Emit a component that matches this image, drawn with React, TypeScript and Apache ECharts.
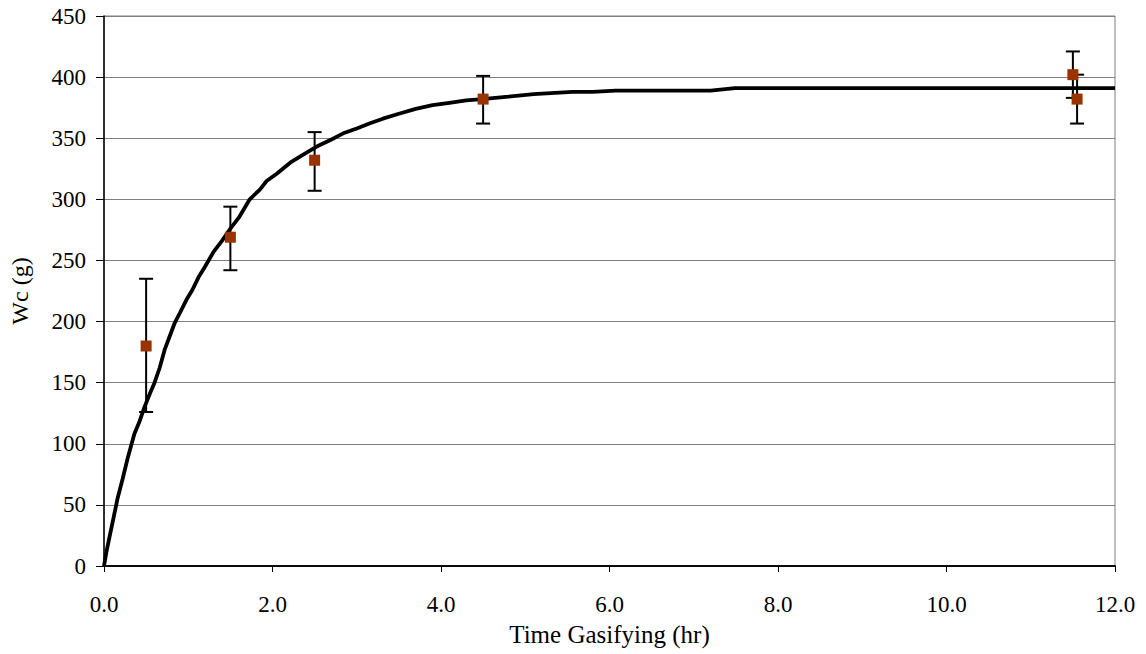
import React, { useEffect, useRef } from "react";
import * as echarts from "echarts";

const curveX = [0, 0.03, 0.06, 0.1, 0.16, 0.22, 0.28, 0.36, 0.42, 0.48, 0.55, 0.6, 0.66, 0.72, 0.78, 0.84, 0.9, 0.98, 1.05, 1.12, 1.2, 1.3, 1.4, 1.5, 1.6, 1.73, 1.85, 1.93, 2.05, 2.21, 2.35, 2.52, 2.7, 2.84, 3.0, 3.15, 3.31, 3.5, 3.7, 3.9, 4.1, 4.3, 4.49, 4.8, 5.1, 5.56, 5.8, 6.07, 6.5, 7.2, 7.49, 8, 9, 10, 11, 12];
const curveY = [0, 12, 22, 35, 55, 71, 88, 108, 118, 130, 142, 150, 162, 177, 188, 199, 207, 218, 226, 236, 245, 257, 266, 276, 285, 300, 308, 315, 321, 330, 336, 343, 349, 354, 358, 362, 366, 370, 374, 377, 379, 381, 382, 384, 386, 388, 388, 389, 389, 389, 391, 391, 391, 391, 391, 391];

const measX = [0.5, 1.5, 2.5, 4.5, 11.5, 11.55];
const measY = [180, 269, 332, 382, 402, 382];
const errLow = [126, 242, 307, 362, 383, 362];
const errHigh = [235, 294, 355, 401, 421, 402];

const xTicks = ["0.0", "2.0", "4.0", "6.0", "8.0", "10.0", "12.0"];

const FONT = "Liberation Serif";

export default function App() {
  const ref = useRef<HTMLDivElement>(null);
  useEffect(() => {
    if (!ref.current) return;
    const chart = echarts.init(ref.current, undefined, { renderer: "svg" });
    const lineData = curveX.map((x, i) => [x, curveY[i]]);
    const scatterData = measX.map((x, i) => [x, measY[i]]);
    const errData = measX.map((x, i) => [x, errLow[i], errHigh[i]]);
    chart.setOption({
      animation: false,
      backgroundColor: "#ffffff",
      textStyle: { fontFamily: FONT },
      grid: {
        left: 100,
        top: 16,
        right: 31,
        bottom: 88,
        show: true,
        borderColor: "#808080",
        borderWidth: 1,
      },
      xAxis: [
        {
          type: "value",
          min: 0,
          max: 12,
          interval: 2,
          name: "Time Gasifying (hr)",
          nameLocation: "middle",
          nameGap: 56,
          nameTextStyle: { fontFamily: FONT, fontSize: 25, color: "#000" },
          axisLine: { show: true, onZero: false, lineStyle: { color: "#000", width: 1.5 } },
          axisTick: { show: true, inside: false, length: 6, lineStyle: { color: "#000" } },
          axisLabel: {
            fontFamily: FONT,
            fontSize: 23,
            color: "#000",
            margin: 27,
            formatter: (v: number) => xTicks[Math.round(v / 2)] ?? "",
          },
          splitLine: { show: false },
        },
        {
          type: "value",
          position: "top",
          min: 0,
          max: 12,
          interval: 2,
          axisLine: { show: true, lineStyle: { color: "#000", width: 1.5 } },
          axisTick: { show: false },
          axisLabel: { show: false },
          splitLine: { show: false },
        },
      ],
      yAxis: {
        type: "value",
        min: 0,
        max: 450,
        interval: 50,
        name: "Wc (g)",
        nameLocation: "middle",
        nameGap: 72,
        nameTextStyle: { fontFamily: FONT, fontSize: 24, color: "#000" },
        axisLine: { show: true, lineStyle: { color: "#000", width: 1.5 } },
        axisTick: { show: true, inside: false, length: 8, lineStyle: { color: "#000" } },
        axisLabel: { fontFamily: FONT, fontSize: 23, color: "#000", margin: 18 },
        splitLine: { show: true, lineStyle: { color: "#808080", width: 1.2 } },
      },
      series: [
        {
          type: "line",
          data: lineData,
          showSymbol: false,
          symbol: "none",
          lineStyle: { color: "#000", width: 3.8 },
          z: 2,
        },
        {
          type: "custom",
          data: errData,
          z: 3,
          renderItem: (params: any, api: any) => {
            const x = api.value(0);
            const lo = api.coord([x, api.value(1)]);
            const hi = api.coord([x, api.value(2)]);
            const hw = 7;
            const style = { stroke: "#000", lineWidth: 2 };
            return {
              type: "group",
              children: [
                { type: "line", shape: { x1: lo[0], y1: lo[1], x2: hi[0], y2: hi[1] }, style },
                { type: "line", shape: { x1: lo[0] - hw, y1: lo[1], x2: lo[0] + hw, y2: lo[1] }, style },
                { type: "line", shape: { x1: hi[0] - hw, y1: hi[1], x2: hi[0] + hw, y2: hi[1] }, style },
              ],
            };
          },
        },
        {
          type: "scatter",
          data: scatterData,
          symbol: "rect",
          symbolSize: 11,
          itemStyle: { color: "#993300", opacity: 1 },
          z: 4,
        },
      ],
    });
    return () => chart.dispose();
  }, []);
  return <div ref={ref} style={{ width: 1146, height: 654, position: "absolute", left: 0, top: 0 }} />;
}
